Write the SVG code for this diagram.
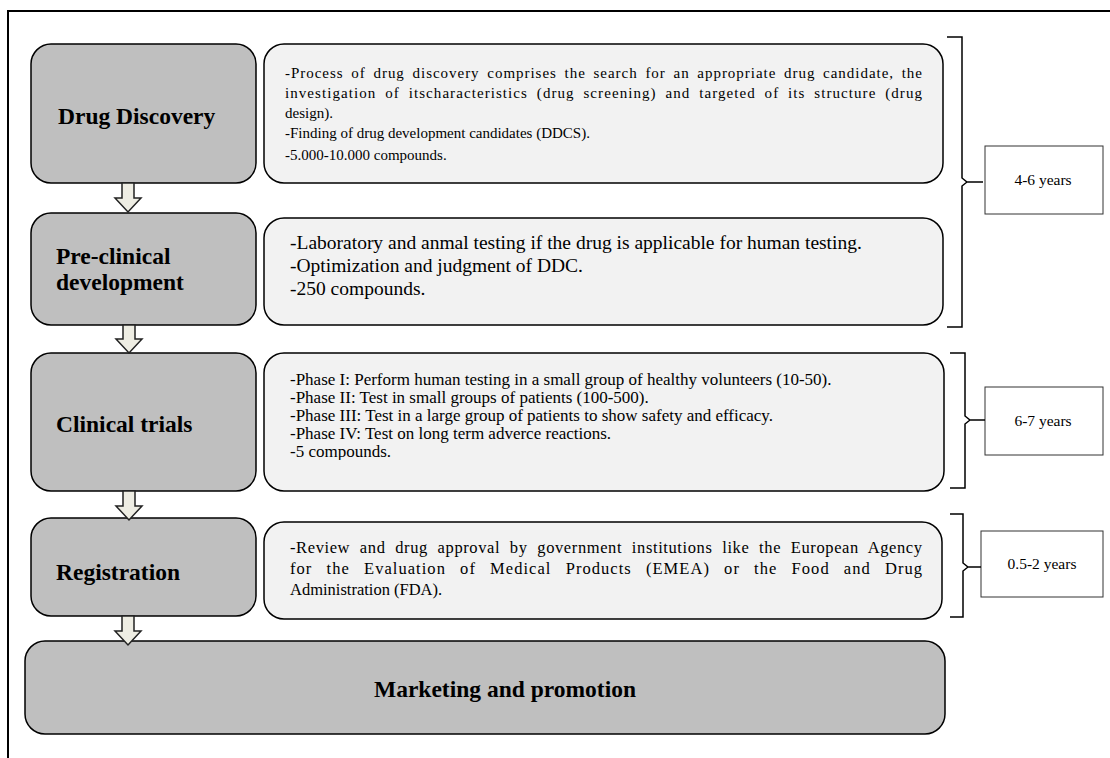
<svg xmlns="http://www.w3.org/2000/svg" width="1110" height="758" viewBox="0 0 1110 758">
<defs>
<style>
.node{fill:#bfbfbf;stroke:#000;stroke-width:1.5}
.desc{fill:#f2f2f2;stroke:#000;stroke-width:1.5}
.yr{fill:#fff;stroke:#333;stroke-width:1}
.t{font-family:"Liberation Serif","Times New Roman","DejaVu Serif",serif;fill:#000}
.b{font-weight:bold;font-size:23.5px}
.arr{fill:#eeede3;stroke:#222;stroke-width:1.5;stroke-linejoin:miter}
.br{fill:none;stroke:#000;stroke-width:1.5}
</style>
<clipPath id="clip1"><rect x="264" y="44" width="679" height="121"/></clipPath>
<clipPath id="clip3"><rect x="264" y="353" width="680" height="107"/></clipPath>
</defs>
<rect width="1110" height="758" fill="#fff"/>
<path d="M8,758 L8,11 L1110,11" fill="none" stroke="#000" stroke-width="2"/>

<g id="node-drug-discovery">
<rect class="node" x="31" y="44" width="225" height="139" rx="20"/>
<text class="t b" x="58" y="124">Drug Discovery</text>
</g>
<g id="desc-drug-discovery">
<rect class="desc" x="264" y="44" width="679" height="139" rx="20"/>
<text class="t" font-size="15px" clip-path="url(#clip1)">
<tspan x="285" y="78" word-spacing="3" textLength="637" lengthAdjust="spacing">-Process of drug discovery comprises the search for an appropriate drug candidate, the</tspan>
<tspan x="285" y="98" word-spacing="4" textLength="637" lengthAdjust="spacing">investigation of itscharacteristics (drug screening) and targeted of its structure (drug</tspan>
<tspan x="285" y="118" word-spacing="0">design).</tspan>
<tspan x="285" y="138">-Finding of drug development candidates (DDCS).</tspan>
<tspan x="285" y="160">-5.000-10.000 compounds.</tspan>
</text>
</g>

<g id="node-pre-clinical">
<rect class="node" x="31" y="213" width="225" height="112" rx="20"/>
<text class="t b" x="56" y="264">Pre-clinical</text>
<text class="t b" x="56" y="290">development</text>
</g>
<g id="desc-pre-clinical">
<rect class="desc" x="264" y="218" width="679" height="107" rx="20"/>
<text class="t" font-size="19.5px">
<tspan x="290" y="249">-Laboratory and anmal testing if the drug is applicable for human testing.</tspan>
<tspan x="290" y="272">-Optimization and judgment of DDC.</tspan>
<tspan x="290" y="295">-250 compounds.</tspan>
</text>
</g>

<g id="node-clinical">
<rect class="node" x="31" y="353" width="225" height="138" rx="20"/>
<text class="t b" x="56" y="432">Clinical trials</text>
</g>
<g id="desc-clinical">
<rect class="desc" x="264" y="353" width="680" height="138" rx="20"/>
<text class="t" font-size="17px" clip-path="url(#clip3)">
<tspan x="290" y="385">-Phase I: Perform human testing in a small group of healthy volunteers (10-50).</tspan>
<tspan x="290" y="403">-Phase II: Test in small groups of patients (100-500).</tspan>
<tspan x="290" y="421">-Phase III: Test in a large group of patients to show safety and efficacy.</tspan>
<tspan x="290" y="439">-Phase IV: Test on long term adverce reactions.</tspan>
<tspan x="290" y="457">-5 compounds.</tspan>
</text>
</g>

<g id="node-registration">
<rect class="node" x="31" y="518" width="225" height="98" rx="20"/>
<text class="t b" x="56" y="580">Registration</text>
</g>
<g id="desc-registration">
<rect class="desc" x="264" y="522" width="678" height="97" rx="20"/>
<text class="t" font-size="16.5px">
<tspan x="290" y="553" word-spacing="5" textLength="632" lengthAdjust="spacing">-Review and drug approval by government institutions like the European Agency</tspan>
<tspan x="290" y="574" word-spacing="9" textLength="632" lengthAdjust="spacing">for the Evaluation of Medical Products (EMEA) or the Food and Drug</tspan>
<tspan x="290" y="595" word-spacing="0">Administration (FDA).</tspan>
</text>
</g>

<g id="node-marketing">
<rect class="node" x="25" y="641" width="920" height="93" rx="20"/>
<text class="t b" x="505" y="697" text-anchor="middle" font-size="22px">Marketing and promotion</text>
</g>

<g id="duration-4-6">
<rect class="yr" x="985" y="146" width="118" height="68"/>
<text class="t" font-size="15.5px" x="1043" y="185" text-anchor="middle">4-6 years</text>
</g>
<g id="duration-6-7">
<rect class="yr" x="985" y="387" width="118" height="68"/>
<text class="t" font-size="15.5px" x="1043" y="426" text-anchor="middle">6-7 years</text>
</g>
<g id="duration-0-5-2">
<rect class="yr" x="981" y="531" width="122" height="66"/>
<text class="t" font-size="15.5px" x="1042" y="569" text-anchor="middle">0.5-2 years</text>
</g>

<g id="connectors">
<path class="arr" d="M122,183 L134,183 L134,198 L141,198 L128,212 L115,198 L122,198 Z"/>
<path class="arr" d="M123,325 L135,325 L135,339 L142,339 L129,353 L116,339 L123,339 Z"/>
<path class="arr" d="M123,491 L135,491 L135,506 L142,506 L129,520 L116,506 L123,506 Z"/>
<path class="arr" d="M122,616 L134,616 L134,631 L141,631 L128,645 L115,631 L122,631 Z"/>
<path class="br" d="M947,37 L962,37 L962,178 L967,182 L983,182 M967,182 L962,186 L962,327 L947,327"/>
<path class="br" d="M950,353 L965,353 L965,416 L970,420 L985,420 M970,420 L965,424 L965,488 L950,488"/>
<path class="br" d="M950,514 L963,514 L963,563 L968,567 L981,567 M968,567 L963,571 L963,617 L950,617"/>
</g>
</svg>
